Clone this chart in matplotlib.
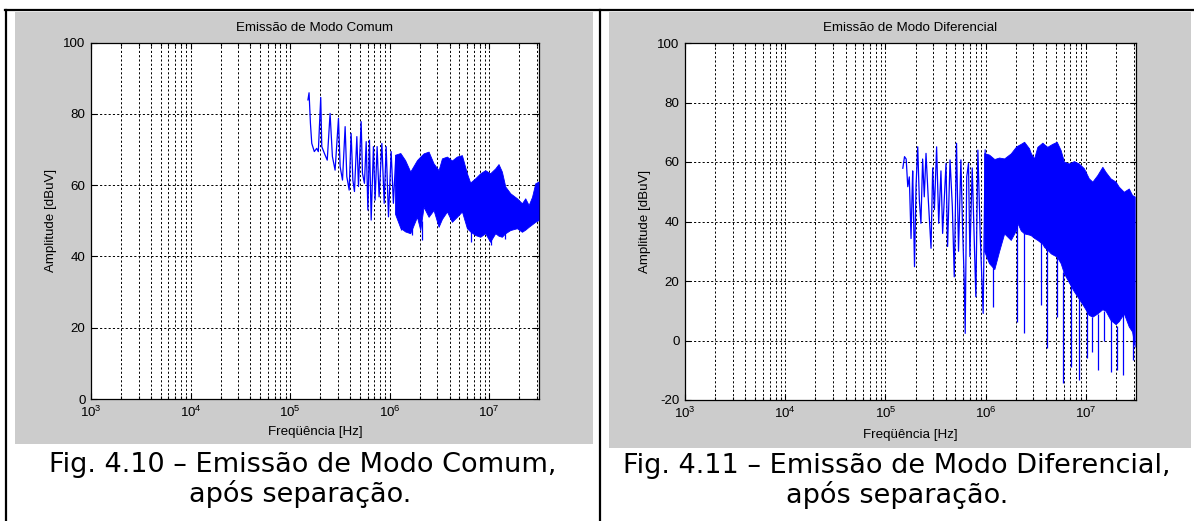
import numpy as np
import matplotlib
matplotlib.use("Agg")
import matplotlib.pyplot as plt
from matplotlib.patches import Rectangle
from matplotlib.lines import Line2D
from matplotlib.ticker import LogLocator, FixedLocator, NullFormatter

# ---------------- Common-mode emission (Fig. 4.10) ----------------
# resolved spectral lines below ~1.2 MHz
cm_trace_freq = [1.51e5, 1.55e5, 1.60e5, 1.65e5, 1.75e5, 1.85e5, 1.92e5, 2.03e5,
                 2.08e5, 2.21e5, 2.36e5, 2.52e5, 2.66e5, 2.83e5, 3.06e5, 3.18e5,
                 3.36e5, 3.57e5, 3.71e5, 3.92e5, 4.10e5, 4.27e5, 4.43e5, 4.68e5,
                 4.86e5, 5.17e5, 5.33e5, 5.58e5, 5.81e5, 6.04e5, 6.27e5, 6.52e5,
                 6.87e5, 7.14e5, 7.48e5, 7.83e5, 8.35e5, 8.81e5, 9.22e5, 9.73e5,
                 1.035e6, 1.09e6, 1.15e6, 1.22e6]
cm_trace_amp = [83.9, 85.9, 77.3, 71.7, 69.4, 70.3, 69.4, 84.6,
                70.8, 68.9, 67.0, 80.1, 68.0, 64.2, 78.7, 65.2,
                61.4, 76.4, 62.4, 58.6, 74.5, 61.4, 58.2, 73.6,
                59.6, 77.8, 63.3, 60.5, 72.2, 53.0, 72.6, 50.2,
                70.8, 55.8, 70.8, 56.7, 71.7, 54.9, 70.8, 51.1,
                69.4, 54.9, 67.5, 56.7]
# dense part of the spectrum: upper / lower envelope
cm_band_freq = [1.13e6, 1.28e6, 1.43e6, 1.61e6, 1.88e6, 2.03e6, 2.19e6, 2.46e6,
                2.76e6, 3.10e6, 3.35e6, 3.76e6, 4.22e6, 4.73e6, 5.32e6, 5.97e6,
                6.44e6, 7.23e6, 8.12e6, 9.12e6, 1.02e7, 1.15e7, 1.24e7, 1.34e7,
                1.45e7, 1.63e7, 1.90e7, 2.13e7, 2.30e7, 2.49e7, 2.69e7, 2.90e7,
                3.13e7]
cm_band_upper = [68.5, 69.0, 67.0, 63.8, 67.0, 68.0, 68.9, 69.4,
                 66.1, 64.2, 67.5, 68.0, 66.9, 68.0, 68.4, 63.3,
                 60.7, 61.9, 63.3, 64.2, 63.3, 64.7, 65.9, 63.8,
                 59.6, 57.7, 56.3, 54.9, 56.3, 54.4, 56.7, 60.5,
                 61.0]
cm_band_lower = [52.0, 48.0, 47.0, 46.5, 51.1, 47.4, 53.9, 51.1,
                 53.0, 48.3, 50.5, 52.6, 49.7, 51.1, 52.6, 47.9,
                 47.0, 46.0, 45.5, 46.5, 44.1, 46.5, 45.8, 45.5,
                 46.5, 47.4, 47.9, 46.9, 47.5, 48.3, 49.0, 49.7,
                 50.2]
cm_spike_freq = [1.30e6, 1.66e6, 2.10e6, 6.50e6, 1.05e7, 1.45e7]
cm_spike_top = [50.0, 50.0, 50.0, 48.0, 47.0, 48.0]
cm_spike_bottom = [47.4, 46.0, 44.6, 44.0, 43.3, 45.0]

# ---------------- Differential-mode emission (Fig. 4.11) ----------------
dm_trace_freq = [1.49e5, 1.55e5, 1.61e5, 1.67e5, 1.73e5, 1.80e5, 1.84e5, 1.87e5,
                 1.95e5, 2.02e5, 2.10e5, 2.18e5, 2.26e5, 2.35e5, 2.44e5, 2.54e5,
                 2.68e5, 2.85e5, 2.96e5, 3.08e5, 3.24e5, 3.40e5, 3.58e5, 3.72e5,
                 4.02e5, 4.17e5, 4.41e5, 4.65e5, 4.86e5, 5.12e5, 5.36e5, 5.66e5,
                 5.88e5, 6.11e5, 6.25e5, 6.47e5, 6.74e5, 6.96e5, 7.34e5, 7.98e5,
                 8.36e5, 8.81e5, 9.44e5, 9.89e5]
dm_trace_amp = [57.9, 61.8, 61.0, 51.7, 55.0, 34.3, 48.0, 57.0,
                24.8, 52.0, 65.1, 47.0, 39.4, 61.0, 48.3, 62.9,
                47.0, 31.0, 58.0, 44.0, 65.1, 39.4, 57.0, 36.0,
                59.5, 31.6, 60.7, 45.0, 21.4, 66.3, 30.0, 60.7,
                38.0, 20.3, 2.4, 55.0, 59.5, 28.2, 58.0, 14.7,
                64.0, 36.0, 9.1, 64.0]
dm_band_freq = [9.67e5, 1.08e6, 1.22e6, 1.36e6, 1.53e6, 1.78e6, 2.00e6, 2.08e6,
                2.24e6, 2.42e6, 2.71e6, 2.82e6, 3.04e6, 3.28e6, 3.68e6, 3.82e6,
                4.12e6, 4.46e6, 4.62e6, 5.12e6, 5.60e6, 6.04e6, 6.78e6, 7.60e6,
                8.51e6, 9.55e6, 1.07e7, 1.16e7, 1.30e7, 1.46e7, 1.57e7, 1.76e7,
                1.98e7, 2.13e7, 2.39e7, 2.68e7, 2.89e7, 3.07e7]
dm_band_upper = [63.0, 62.5, 61.0, 61.5, 61.2, 62.9, 65.1, 65.5,
                 66.1, 66.8, 64.6, 63.0, 61.2, 65.1, 66.5, 66.0,
                 65.1, 65.8, 66.1, 66.8, 64.0, 60.1, 59.5, 60.3,
                 59.5, 57.9, 54.5, 53.4, 55.6, 58.4, 56.7, 54.5,
                 53.4, 51.7, 50.0, 51.1, 48.9, 48.4]
dm_band_lower = [30.0, 26.0, 24.0, 30.0, 36.0, 33.8, 37.0, 39.4,
                 37.0, 36.0, 35.6, 35.4, 34.5, 33.8, 32.5, 31.5,
                 30.5, 29.3, 29.0, 28.2, 26.0, 22.6, 19.5, 16.5,
                 14.0, 11.4, 8.6, 8.0, 9.1, 10.5, 10.0, 6.9,
                 5.5, 6.5, 9.1, 4.7, 3.0, -2.1]
dm_spike_freq = [1.19e6, 2.06e6, 2.42e6, 3.56e6, 4.06e6, 5.14e6, 5.94e6, 7.04e6,
                 8.51e6, 1.02e7, 1.15e7, 1.32e7, 1.51e7, 1.79e7, 2.05e7, 2.36e7,
                 2.96e7]
dm_spike_top = [25.0, 39.0, 36.0, 33.0, 31.0, 28.0, 23.0, 19.0,
                14.0, 11.0, 8.0, 9.0, 10.0, 7.0, 5.0, 9.0,
                3.0]
dm_spike_bottom = [11.3, 6.2, 2.4, 12.0, -2.6, 8.0, -14.4, -8.8,
                   -13.3, -6.0, -4.0, -9.9, 0.0, -10.6, -9.9, -11.7,
                   -6.6]

x_decades = [3, 4, 5, 6, 7]
cm_yticks = [0, 20, 40, 60, 80, 100]
dm_yticks = [-20, 0, 20, 40, 60, 80, 100]

W, H = 1194, 521
plt.rcParams["mathtext.default"] = "regular"
fig = plt.figure(figsize=(W / 100, H / 100), dpi=100)
fig.patch.set_facecolor("white")

GRAY = "#cccccc"
BLUE = "#0000ff"
SMALL = dict(family="Liberation Sans", size=9.6)


def box(x0, y0, x1, y1):
    """pixel box (top-left origin) -> figure fraction rect"""
    return [x0 / W, 1 - y1 / H, (x1 - x0) / W, (y1 - y0) / H]


# page frame: top rule, left rule and divider between the two figures
fig.add_artist(Line2D([5 / W, 1], [1 - 10 / H] * 2, color="black", lw=1.6))
fig.add_artist(Line2D([6 / W] * 2, [0, 1 - 10 / H], color="black", lw=1.6))
fig.add_artist(Line2D([600 / W] * 2, [0, 1 - 10 / H], color="black", lw=1.6))

for rect in (box(15, 12, 593, 444), box(609, 12, 1191, 448)):
    fig.add_artist(Rectangle((rect[0], rect[1]), rect[2], rect[3],
                             transform=fig.transFigure, facecolor=GRAY,
                             edgecolor="none", zorder=0))


def setup_axes(ax, yticks, ylim, title, title_y, xlab_y, ylab_x):
    ax.set_xscale("log")
    ax.set_xlim(1e3, 10 ** 7.5)
    ax.set_ylim(*ylim)
    ax.set_facecolor("white")
    ax.xaxis.set_major_locator(FixedLocator([10.0 ** k for k in x_decades]))
    ax.set_xticklabels([r"$10^{%d}$" % k for k in x_decades], **SMALL)
    ax.xaxis.set_minor_locator(LogLocator(base=10, subs=np.arange(2, 10), numticks=20))
    ax.xaxis.set_minor_formatter(NullFormatter())
    ax.set_yticks(yticks)
    ax.set_yticklabels([str(v) for v in yticks], **SMALL)
    ax.tick_params(which="both", direction="in", length=4, width=0.8,
                   colors="black", top=True, right=True, pad=4)
    ax.tick_params(which="minor", length=2.5)
    ax.grid(True, which="both", axis="x", color="black", lw=0.7,
            linestyle=(0, (2.2, 2.2)))
    ax.grid(True, which="major", axis="y", color="black", lw=0.7,
            linestyle=(0, (2.2, 2.2)))
    for s in ax.spines.values():
        s.set_linewidth(0.9)
    ax.text(0.5, title_y, title, transform=ax.transAxes, ha="center",
            va="center", **SMALL)
    ax.set_xlabel("Freqüência [Hz]", **SMALL)
    ax.xaxis.set_label_coords(0.5, xlab_y)
    ax.set_ylabel("Amplitude [dBuV]", **SMALL)
    ax.yaxis.set_label_coords(ylab_x, 0.5)


# ---- left: common mode ----
ax1 = fig.add_axes(box(91, 42.5, 539, 399))
setup_axes(ax1, cm_yticks, (0, 100), "Emissão de Modo Comum",
           1 + 14.5 / 356.5, -27 / 356.5, -0.076)
ax1.plot(cm_trace_freq, cm_trace_amp, color=BLUE, lw=0.9, zorder=3)
ax1.fill_between(cm_band_freq, cm_band_lower, cm_band_upper, color=BLUE,
                 lw=0.6, edgecolor=BLUE, zorder=3)
ax1.vlines(cm_spike_freq, cm_spike_bottom, cm_spike_top, color=BLUE, lw=0.9, zorder=3)

# ---- right: differential mode ----
ax2 = fig.add_axes(box(685, 43, 1136, 400))
setup_axes(ax2, dm_yticks, (-20, 100), "Emissão de Modo Diferencial",
           1 + 15 / 357, -29 / 357, -0.0754)
ax2.plot(dm_trace_freq, dm_trace_amp, color=BLUE, lw=0.9, zorder=3)
ax2.fill_between(dm_band_freq, dm_band_lower, dm_band_upper, color=BLUE,
                 lw=0.6, edgecolor=BLUE, zorder=3)
ax2.vlines(dm_spike_freq, dm_spike_bottom, dm_spike_top, color=BLUE, lw=0.9, zorder=3)

# ---- captions ----
CAP = dict(family="DejaVu Sans", size=19.5, ha="center", va="baseline")
fig.text(303 / W, 1 - 472 / H, "Fig. 4.10 – Emissão de Modo Comum,", **CAP)
fig.text(300 / W, 1 - 502 / H, "após separação.", **CAP)
fig.text(897 / W, 1 - 473 / H, "Fig. 4.11 – Emissão de Modo Diferencial,", **CAP)
fig.text(897 / W, 1 - 503 / H, "após separação.", **CAP)

fig.savefig("out.png", dpi=100, facecolor="white")
